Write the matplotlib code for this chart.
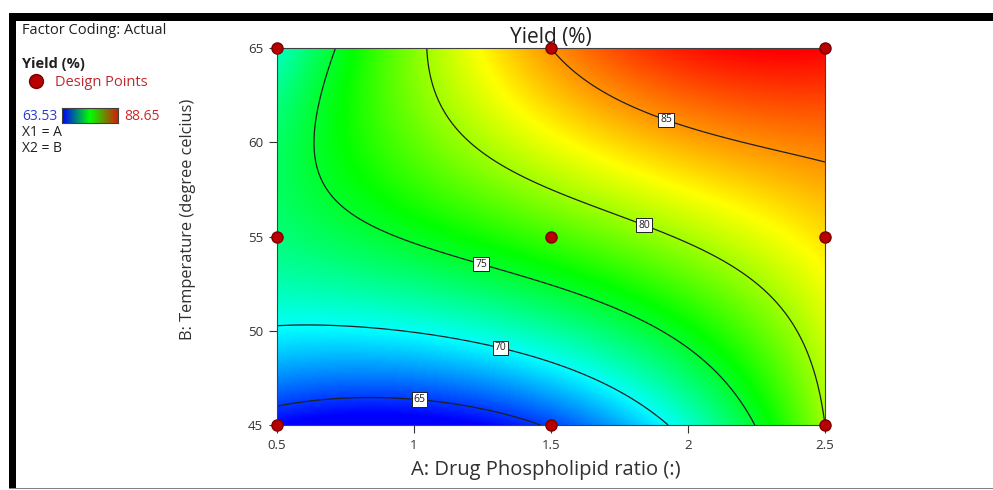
import numpy as np
import matplotlib
matplotlib.use("Agg")
import matplotlib.pyplot as plt
from matplotlib.colors import LinearSegmentedColormap
from matplotlib.patches import Rectangle

# design points (face centred, 3x3) and yields
ratio_levels = [0.5, 1.5, 2.5]
temp_levels = [45, 55, 65]
yield_grid = [
    [63.53, 65.3, 80.0],   # B = 45
    [73.1, 77.7, 83.1],    # B = 55
    [71.2, 85.0, 88.65],   # B = 65
]
contour_levels = [65, 70, 75, 80, 85]
label_pos = [(1.02, 46.3), (1.32, 49.3), (1.25, 53.8), (1.85, 56.0), (1.93, 61.6)]
x_ticks = [0.5, 1, 1.5, 2, 2.5]
y_ticks = [45, 50, 55, 60, 65]
y_min, y_max = 63.53, 88.65

plt.rcParams['font.family'] = ['Open Sans', 'DejaVu Sans']

# fit the response surface through the design points
A, B = np.meshgrid(ratio_levels, temp_levels)
a, b, y = A.ravel(), B.ravel(), np.array(yield_grid).ravel()


def terms(a, b):
    return np.column_stack([np.ones_like(a), a, b, a * b, a**2, b**2,
                            a**2 * b, a * b**2, a**2 * b**2])


coef, *_ = np.linalg.lstsq(terms(a, b), y, rcond=None)

ga = np.linspace(0.5, 2.5, 300)
gb = np.linspace(45, 65, 300)
GA, GB = np.meshgrid(ga, gb)
Z = (terms(GA.ravel(), GB.ravel()) @ coef).reshape(GA.shape)

cmap = LinearSegmentedColormap.from_list(
    'de', ['#0000ff', '#00ffff', '#00ff00', '#ffff00', '#ff0000'])

fig = plt.figure(figsize=(9.93, 4.90), dpi=100)
ax = fig.add_axes([277 / 993, 1 - 425 / 490, 548 / 993, 377 / 490])

ax.imshow(Z, extent=[0.5, 2.5, 45, 65], origin='lower', aspect='auto',
          cmap=cmap, vmin=y_min, vmax=y_max, interpolation='bilinear')
cs = ax.contour(GA, GB, Z, levels=contour_levels, colors='#202020', linewidths=0.9)
txts = ax.clabel(cs, fmt='%d', fontsize=7.5, manual=label_pos, inline=True,
                 inline_spacing=2)
for t in txts:
    t.set_rotation(0)
    t.set_bbox(dict(facecolor='white', edgecolor='#202020', pad=1.3, lw=0.7))

ax.plot(A.ravel(), B.ravel(), 'o', color='#b80000', markeredgecolor='#7a0000',
        markersize=8, clip_on=False, zorder=5)

ax.set_xlim(0.5, 2.5)
ax.set_ylim(45, 65)
ax.set_xticks(x_ticks)
ax.set_xticklabels(['0.5', '1', '1.5', '2', '2.5'])
ax.set_yticks(y_ticks)
ax.tick_params(direction='out', length=6, width=0.8, colors='#333333',
               labelsize=9.5, pad=4)
for s in ax.spines.values():
    s.set_color('#404040')
    s.set_linewidth(0.8)

ax.set_title('Yield (%)', fontsize=15, color='#202020', pad=1)
ax.set_xlabel('A: Drug Phospholipid ratio (:)', fontsize=14.5, color='#303030')
ax.xaxis.set_label_coords(0.49, (425 - 470) / 377, transform=ax.transAxes)
ax.xaxis.label.set_va('center')
ax.set_ylabel('B: Temperature (degree celcius)', fontsize=11.8, color='#303030')
ax.yaxis.set_label_coords((188 - 277) / 548, (425 - 219) / 377, transform=ax.transAxes)
ax.yaxis.label.set_va('center')

# side legend
fig.text(22 / 993, 1 - 30 / 490, 'Factor Coding: Actual', fontsize=10.5,
         color='#202020', va='center')
fig.text(22 / 993, 1 - 64 / 490, 'Yield (%)', fontsize=10.5, fontweight='bold',
         color='#202020', va='center')
fig.add_artist(plt.Line2D([36 / 993], [1 - 81 / 490], marker='o', color='#b80000',
                          markeredgecolor='#7a0000', markersize=10, linestyle=''))
fig.text(55 / 993, 1 - 82 / 490, 'Design Points', fontsize=10.5, color='#c0282f', va='center')
fig.text(22 / 993, 1 - 116 / 490, '63.53', fontsize=10, color='#2a3bd0', va='center')
fig.text(124 / 993, 1 - 116 / 490, '88.65', fontsize=10, color='#d02828', va='center')
cax = fig.add_axes([62 / 993, 1 - 123 / 490, 56 / 993, 15 / 490])
small = LinearSegmentedColormap.from_list('s', ['#0000ff', '#00ff00', '#d02000'])
cax.imshow(np.linspace(0, 1, 100)[None, :], aspect='auto', cmap=small)
cax.set_xticks([])
cax.set_yticks([])
for s in cax.spines.values():
    s.set_color('#404040')
fig.text(22 / 993, 1 - 132 / 490, 'X1 = A', fontsize=10, color='#202020', va='center')
fig.text(22 / 993, 1 - 149 / 490, 'X2 = B', fontsize=10, color='#202020', va='center')

# screenshot frame
fig.add_artist(Rectangle((9 / 993, 1 - 21 / 490), 984 / 993, 8 / 490,
                         transform=fig.transFigure, color='black', lw=0))
fig.add_artist(Rectangle((9 / 993, 1 - 488 / 490), 7 / 993, 475 / 490,
                         transform=fig.transFigure, color='black', lw=0))
fig.add_artist(Rectangle((9 / 993, 1 - 489 / 490), 984 / 993, 1.5 / 490,
                         transform=fig.transFigure, color='#808080', lw=0))

fig.savefig('out.png', dpi=100)
